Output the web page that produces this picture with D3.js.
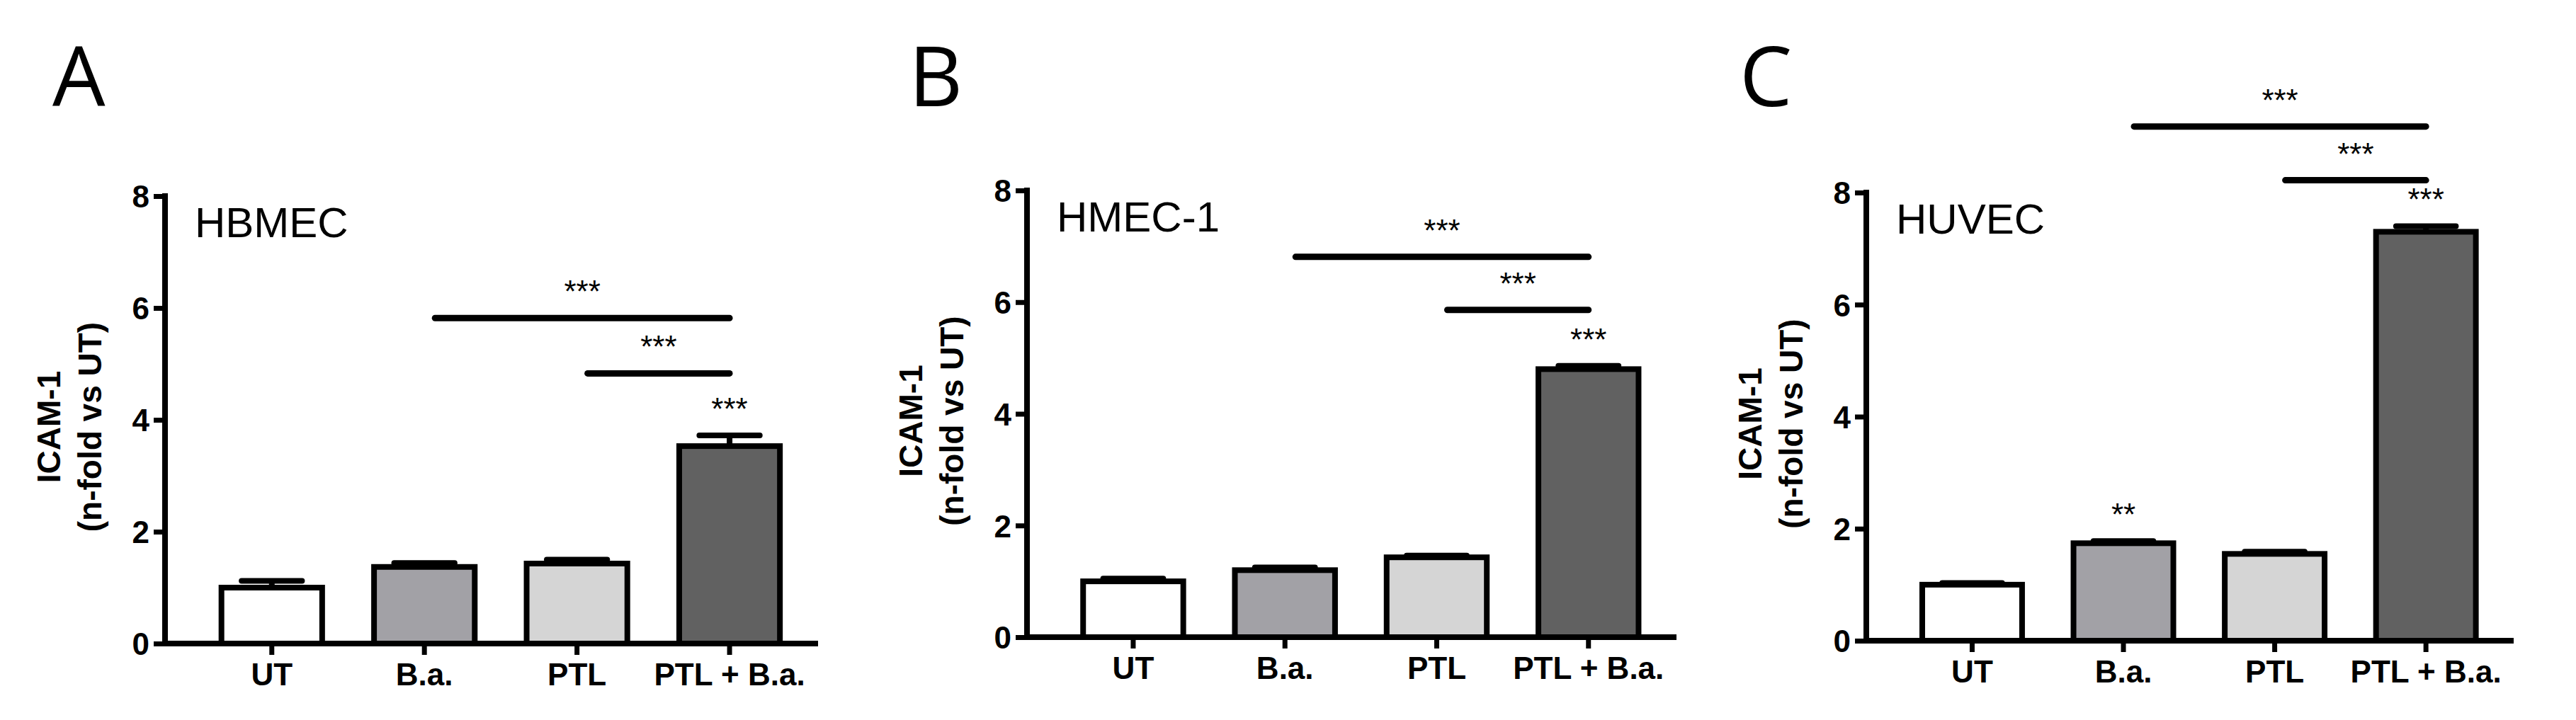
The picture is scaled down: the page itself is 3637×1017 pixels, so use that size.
<!DOCTYPE html>
<html><head><meta charset="utf-8">
<script src="https://cdn.jsdelivr.net/npm/d3@7"></script>
<style>body{margin:0;background:#fff}</style>
</head><body>
<svg width="3637" height="1017"></svg>
<script>
// data
var categories = ["UT", "B.a.", "PTL", "PTL + B.a."];
var fills = ["#ffffff", "#a2a1a6", "#d5d5d5", "#616161"];
var panelLetters = ["A", "B", "C"];
var cellLines = ["HBMEC", "HMEC-1", "HUVEC"];
var means = [[1.0, 1.37, 1.43, 3.53], [1.0, 1.2, 1.43, 4.8], [1.0, 1.74, 1.55, 7.3]];
var errs = [[0.12, 0.07, 0.07, 0.19], [0.05, 0.05, 0.03, 0.06], [0.03, 0.04, 0.04, 0.1]];
var barStars = [["", "", "", "***"], ["", "", "", "***"], ["", "**", "", "***"]];
// significance brackets: [from, to, y value, label]
var brackets = [
  [[1, 3, 5.82, "***"], [2, 3, 4.83, "***"]],
  [[1, 3, 6.81, "***"], [2, 3, 5.86, "***"]],
  [[1, 3, 9.18, "***"], [2, 3, 8.22, "***"]]
];
var yTicks = [0, 2, 4, 6, 8];

// layout per panel (axis left x, top y of 8, bottom y of 0, axis end x)
var layout = [
  {x0: 233, x1: 1155, y8: 277, y0: 909, lx: 74},
  {x0: 1450, x1: 2367, y8: 269, y0: 900, lx: 1283},
  {x0: 2635, x1: 3549, y8: 272, y0: 905, lx: 2456}
];

var svg = d3.select("svg");
var font = "'Liberation Sans', Arial, sans-serif";

layout.forEach(function(L, p) {
  var g = svg.append("g");
  var y = d3.scaleLinear().domain([0, 8]).range([L.y0, L.y8]);
  var pad = (L.x1 - L.x0) * 0.035;
  var x = d3.scaleBand().domain(categories).range([L.x0 + pad, L.x1 - pad * 0.2]).paddingInner(0.34).paddingOuter(0.22);
  var bw = x.bandwidth();
  var cx = function(i) { return x(categories[i]) + bw / 2; };

  g.append("text").attr("x", L.lx).attr("y", 150).attr("font-family", "'Open Sans', sans-serif")
    .attr("font-size", 118).text(panelLetters[p]);

  // bars
  categories.forEach(function(c, i) {
    var top = y(means[p][i] + errs[p][i]);
    g.append("line").attr("x1", cx(i)).attr("x2", cx(i)).attr("y1", y(means[p][i])).attr("y2", top)
      .attr("stroke", "#000").attr("stroke-width", 8);
    g.append("line").attr("x1", cx(i) - bw * 0.3).attr("x2", cx(i) + bw * 0.3).attr("y1", top).attr("y2", top)
      .attr("stroke", "#000").attr("stroke-width", 8).attr("stroke-linecap", "round");
    g.append("rect").attr("x", x(c)).attr("y", y(means[p][i])).attr("width", bw)
      .attr("height", y(0) - y(means[p][i])).attr("fill", fills[i]).attr("stroke", "#000").attr("stroke-width", 8);
    if (barStars[p][i]) {
      g.append("text").attr("x", cx(i)).attr("y", top - 22).attr("text-anchor", "middle")
        .attr("font-family", font).attr("font-size", 44).text(barStars[p][i]);
    }
  });

  // axes
  var ya = g.append("g").attr("transform", "translate(" + L.x0 + ",0)")
    .call(d3.axisLeft(y).tickValues(yTicks).tickSize(16).tickPadding(6).tickFormat(d3.format("d")));
  var xa = g.append("g").attr("transform", "translate(0," + L.y0 + ")")
    .call(d3.axisBottom(x).tickSize(16).tickPadding(12));
  [ya, xa].forEach(function(a) {
    a.select(".domain").remove();
    a.selectAll("line").attr("stroke", "#000").attr("stroke-width", 7);
    a.selectAll("text").attr("font-family", font).attr("font-weight", "bold").attr("font-size", 44).attr("fill", "#000");
  });
  g.append("line").attr("x1", L.x0).attr("x2", L.x0).attr("y1", L.y8 - 4).attr("y2", L.y0 + 4)
    .attr("stroke", "#000").attr("stroke-width", 8);
  g.append("line").attr("x1", L.x0 - 4).attr("x2", L.x1).attr("y1", L.y0).attr("y2", L.y0)
    .attr("stroke", "#000").attr("stroke-width", 8);
  ya.selectAll("text").attr("dy", "0.36em");

  // y label
  var yl = g.append("text").attr("transform", "translate(" + (L.x0 - 148) + "," + ((L.y0 + L.y8) / 2 + 10) + ") rotate(-90)")
    .attr("text-anchor", "middle").attr("font-family", font).attr("font-weight", "bold").attr("font-size", 46);
  yl.append("tspan").attr("x", 0).attr("dy", 0).text("ICAM-1");
  yl.append("tspan").attr("x", 0).attr("dy", 58).text("(n-fold vs UT)");

  g.append("text").attr("x", L.x0 + 42).attr("y", L.y8 + 58).attr("font-family", font)
    .attr("font-size", 60).text(cellLines[p]);

  // brackets
  brackets[p].forEach(function(b) {
    g.append("line").attr("x1", cx(b[0]) + 15).attr("x2", cx(b[1])).attr("y1", y(b[2])).attr("y2", y(b[2]))
      .attr("stroke", "#000").attr("stroke-width", 9).attr("stroke-linecap", "round");
    g.append("text").attr("x", (cx(b[0]) + 15 + cx(b[1])) / 2).attr("y", y(b[2]) - 22).attr("text-anchor", "middle")
      .attr("font-family", font).attr("font-size", 44).text(b[3]);
  });
});
</script>
</body></html>
